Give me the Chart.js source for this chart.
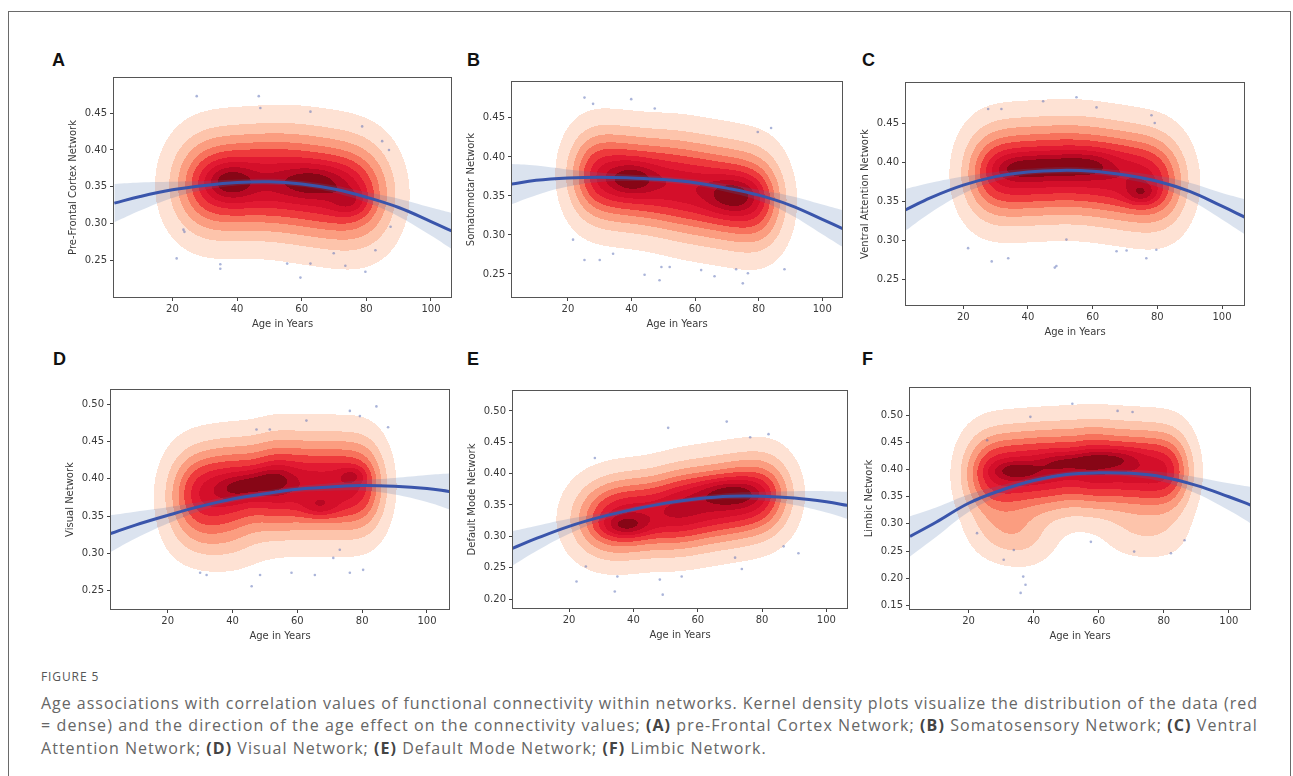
<!DOCTYPE html>
<html>
<head>
<meta charset="utf-8">
<script src="https://cdn.jsdelivr.net/npm/chart.js@4.4.1/dist/chart.umd.min.js"></script>
<style>
  body { margin: 0; background: #fff; width: 1293px; height: 776px; overflow: hidden; position: relative; font-family: 'Open Sans', sans-serif; }
  .frame { position: absolute; left: 8px; top: 11px; width: 1283px; height: 800px; border: 1.5px solid #6a6a6a; box-sizing: border-box; }
  .letter { position: absolute; font: bold 18px 'Liberation Sans', Arial, sans-serif; color: #111; line-height: 18px; }
  canvas { position: absolute; }
  .figno { position: absolute; left: 41px; top: 669px; font-size: 12px; line-height: 16px; letter-spacing: 0.9px; color: #555; }
  .cap { position: absolute; left: 41px; white-space: nowrap; font-size: 16px; line-height: 20px; color: #666; }
  .cap b { color: #444; font-weight: 700; }
</style>
</head>
<body>
<div class="frame"></div>
<div class="letter" style="left:52px;top:51px">A</div>
<div class="letter" style="left:467px;top:51px">B</div>
<div class="letter" style="left:862px;top:51px">C</div>
<div class="letter" style="left:53px;top:350px">D</div>
<div class="letter" style="left:467px;top:350px">E</div>
<div class="letter" style="left:862px;top:350px">F</div>

<div class="figno">FIGURE 5</div>
<div class="cap fit" style="top:693px"><span>Age associations with correlation values of functional connectivity within networks. Kernel density plots visualize the distribution of the data (red</span></div>
<div class="cap fit" style="top:715px"><span>= dense) and the direction of the age effect on the connectivity values; <b>(A)</b> pre-Frontal Cortex Network; <b>(B)</b> Somatosensory Network; <b>(C)</b> Ventral</span></div>
<div class="cap last" style="top:738px"><span>Attention Network; <b>(D)</b> Visual Network; <b>(E)</b> Default Mode Network; <b>(F)</b> Limbic Network.</span></div>

<script>
const ages = [2, 10, 20, 30, 40, 50, 60, 70, 80, 90, 100, 107];
const xTicks = [20, 40, 60, 80, 100];
const xTitle = 'Age in Years';

// A: pre-frontal
const titleA = 'Pre-Frontal Cortex Network';
const xRangeA = [1.9, 106.2];
const yRangeA = [0.2007, 0.4976];
const yTicksA = [0.25, 0.30, 0.35, 0.40, 0.45];
const fitA = [0.328, 0.337, 0.346, 0.352, 0.356, 0.357, 0.354, 0.347, 0.336, 0.322, 0.303, 0.289];
const ciHighA = [0.354, 0.356, 0.357, 0.358, 0.360, 0.361, 0.358, 0.352, 0.343, 0.334, 0.322, 0.314];
const ciLowA = [0.302, 0.318, 0.335, 0.346, 0.352, 0.353, 0.350, 0.342, 0.329, 0.310, 0.284, 0.264];
// density parts: [age1, val1, age2, val2, spreadAge, spreadVal, weight]
const kdeA = [
  [24.5, 0.352, 52, 0.358, 6.5, 0.044, 1.0],
  [52, 0.358, 83.5, 0.338, 6.5, 0.046, 1.0],
  [38, 0.357, 38, 0.357, 5, 0.016, 0.3],
  [63, 0.357, 63, 0.357, 7, 0.015, 0.28],
  [75, 0.330, 75, 0.330, 4, 0.013, 0.2],
];
const dotsA = [[27.5, 0.473], [46.7, 0.473], [47.2, 0.457], [21.3, 0.253], [34.8, 0.245], [34.8, 0.239], [59.6, 0.227],
  [55.5, 0.246], [62.7, 0.246], [73.5, 0.243], [79.7, 0.235], [84.9, 0.412], [87, 0.400], [78.7, 0.432], [62.7, 0.452],
  [23.4, 0.292], [23.7, 0.289], [82.8, 0.264], [87.5, 0.296], [69.9, 0.260]];

// B: somatomotor
const titleB = 'Somatomotar Network';
const xRangeB = [2.4, 106.2];
const yRangeB = [0.2205, 0.496];
const yTicksB = [0.25, 0.30, 0.35, 0.40, 0.45];
const fitB = [0.365, 0.370, 0.373, 0.374, 0.373, 0.371, 0.367, 0.360, 0.351, 0.338, 0.320, 0.307];
const ciHighB = [0.391, 0.389, 0.384, 0.380, 0.377, 0.375, 0.371, 0.365, 0.358, 0.350, 0.339, 0.331];
const ciLowB = [0.339, 0.351, 0.362, 0.368, 0.369, 0.367, 0.363, 0.355, 0.344, 0.326, 0.301, 0.283];
const kdeB = [
  [23.6, 0.378, 50, 0.366, 5, 0.038, 1.0],
  [50, 0.366, 84.5, 0.342, 5, 0.040, 1.0],
  [40, 0.372, 40, 0.372, 5, 0.014, 0.3],
  [72, 0.350, 72, 0.350, 5.5, 0.016, 0.3],
];
const dotsB = [[25.2, 0.476], [27.9, 0.468], [39.9, 0.474], [47.3, 0.462], [79.7, 0.432], [83.9, 0.437], [21.6, 0.294],
  [25.2, 0.268], [30, 0.268], [34.2, 0.276], [44.1, 0.249], [48.8, 0.242], [49.4, 0.259], [52, 0.259], [61.9, 0.255],
  [66.1, 0.247], [72.9, 0.256], [76.6, 0.251], [75, 0.238], [88.1, 0.256]];

// C: ventral attention
const titleC = 'Ventral Attention Network';
const xRangeC = [2.3, 106.8];
const yRangeC = [0.2169, 0.5024];
const yTicksC = [0.25, 0.30, 0.35, 0.40, 0.45];
const fitC = [0.339, 0.355, 0.371, 0.382, 0.388, 0.390, 0.389, 0.384, 0.376, 0.363, 0.344, 0.330];
const ciHighC = [0.366, 0.374, 0.382, 0.388, 0.392, 0.394, 0.393, 0.389, 0.383, 0.374, 0.361, 0.353];
const ciLowC = [0.312, 0.336, 0.360, 0.376, 0.384, 0.386, 0.385, 0.379, 0.369, 0.352, 0.327, 0.308];
const kdeC = [
  [23.9, 0.385, 55, 0.392, 5.4, 0.039, 1.0],
  [55, 0.392, 85.1, 0.373, 5.4, 0.039, 1.0],
  [32, 0.393, 64, 0.398, 4, 0.012, 0.3],
  [75, 0.360, 75, 0.360, 3.5, 0.010, 0.3],
];
const dotsC = [[27.7, 0.469], [31.8, 0.469], [44.7, 0.479], [55, 0.484], [61.2, 0.471], [78.2, 0.461], [79.2, 0.451],
  [21.5, 0.290], [28.8, 0.273], [33.9, 0.277], [48.3, 0.265], [48.8, 0.267], [51.9, 0.301], [67.4, 0.286], [70.5, 0.287],
  [76.6, 0.277], [79.7, 0.288]];

// D: visual
const titleD = 'Visual Network';
const xRangeD = [2.5, 106.8];
const yRangeD = [0.2255, 0.519];
const yTicksD = [0.25, 0.30, 0.35, 0.40, 0.45, 0.50];
const fitD = [0.326, 0.338, 0.351, 0.363, 0.373, 0.380, 0.386, 0.389, 0.391, 0.390, 0.387, 0.383];
const ciHighD = [0.351, 0.356, 0.362, 0.369, 0.377, 0.384, 0.390, 0.394, 0.398, 0.401, 0.405, 0.407];
const ciLowD = [0.301, 0.320, 0.340, 0.357, 0.369, 0.376, 0.382, 0.384, 0.384, 0.379, 0.369, 0.359];
const kdeD = [
  [23.6, 0.378, 50, 0.392, 5.2, 0.039, 1.0],
  [50, 0.392, 84.3, 0.390, 4.2, 0.041, 1.0],
  [25, 0.325, 45, 0.315, 6, 0.028, 0.18],
  [38, 0.385, 56, 0.402, 4, 0.012, 0.35],
  [67, 0.362, 67, 0.362, 4, 0.010, 0.25],
  [77, 0.405, 77, 0.405, 3, 0.008, 0.2],
];
const dotsD = [[47.4, 0.466], [51.5, 0.466], [62.8, 0.478], [76.2, 0.491], [84.4, 0.497], [79.3, 0.484], [88, 0.469],
  [30, 0.274], [32, 0.271], [45.9, 0.256], [48.5, 0.271], [58.2, 0.274], [65.4, 0.271], [71.1, 0.294], [76.2, 0.274],
  [80.3, 0.278], [73.1, 0.305]];

// E: default mode
const titleE = 'Default Mode Network';
const xRangeE = [2.55, 106.4];
const yRangeE = [0.1857, 0.5318];
const yTicksE = [0.20, 0.25, 0.30, 0.35, 0.40, 0.45, 0.50];
const fitE = [0.280, 0.297, 0.316, 0.331, 0.343, 0.353, 0.360, 0.364, 0.364, 0.361, 0.355, 0.349];
const ciHighE = [0.308, 0.317, 0.328, 0.337, 0.347, 0.357, 0.364, 0.369, 0.371, 0.372, 0.372, 0.371];
const ciLowE = [0.252, 0.277, 0.304, 0.325, 0.339, 0.349, 0.356, 0.359, 0.357, 0.350, 0.338, 0.327];
const kdeE = [
  [26, 0.325, 50, 0.340, 6.5, 0.040, 1.0],
  [50, 0.340, 85.2, 0.368, 5.3, 0.042, 1.0],
  [38, 0.316, 38, 0.316, 5, 0.012, 0.3],
  [70, 0.370, 70, 0.370, 7, 0.015, 0.3],
];
const dotsE = [[22.3, 0.228], [25.2, 0.252], [34.2, 0.212], [35, 0.236], [48.2, 0.231], [49.1, 0.207], [55, 0.236],
  [50.8, 0.473], [69, 0.483], [76.3, 0.458], [82, 0.463], [28, 0.425], [71.6, 0.266], [73.7, 0.248], [91.3, 0.273],
  [86.7, 0.284]];

// F: limbic
const titleF = 'Limbic Network';
const xRangeF = [2.0, 106.5];
const yRangeF = [0.1434, 0.5501];
const yTicksF = [0.15, 0.20, 0.25, 0.30, 0.35, 0.40, 0.45, 0.50];
const fitF = [0.277, 0.303, 0.338, 0.362, 0.380, 0.391, 0.394, 0.393, 0.386, 0.371, 0.350, 0.334];
const ciHighF = [0.314, 0.330, 0.354, 0.371, 0.386, 0.396, 0.399, 0.399, 0.395, 0.386, 0.375, 0.368];
const ciLowF = [0.240, 0.276, 0.322, 0.353, 0.374, 0.386, 0.389, 0.387, 0.377, 0.356, 0.325, 0.300];
const kdeF = [
  [21.5, 0.390, 55, 0.405, 4.7, 0.050, 1.0],
  [55, 0.405, 86, 0.395, 4, 0.050, 1.0],
  [25, 0.290, 42, 0.272, 5.5, 0.035, 0.3],
  [65, 0.285, 84, 0.280, 5, 0.032, 0.16],
  [35, 0.398, 35, 0.398, 5, 0.012, 0.3],
  [44, 0.410, 70, 0.422, 4, 0.013, 0.3],
];
const dotsF = [[51.9, 0.521], [39, 0.497], [25.7, 0.454], [65.8, 0.508], [70.4, 0.506], [36.8, 0.203], [37.5, 0.188],
  [36, 0.173], [57.6, 0.267], [70.9, 0.249], [33.9, 0.252], [30.8, 0.234], [22.6, 0.283], [82.2, 0.246], [86.4, 0.270]];

// filled contour levels (share of peak density) and their colours
const levels = [0.05, 0.155, 0.26, 0.37, 0.47, 0.58, 0.68, 0.79, 0.89];
const levelColors = ['#fee2d4', '#fdc4ab', '#fb9d80', '#f7725c', '#ee3a3c', '#e21a32', '#d40f2a', '#b80823', '#870616'];

const panels = [
  { box: [114, 78, 451, 297], xr: xRangeA, yr: yRangeA, yt: yTicksA, title: titleA, fit: fitA, hi: ciHighA, lo: ciLowA, kde: kdeA, dots: dotsA },
  { box: [512, 82, 842, 297], xr: xRangeB, yr: yRangeB, yt: yTicksB, title: titleB, fit: fitB, hi: ciHighB, lo: ciLowB, kde: kdeB, dots: dotsB },
  { box: [906, 83, 1244, 305], xr: xRangeC, yr: yRangeC, yt: yTicksC, title: titleC, fit: fitC, hi: ciHighC, lo: ciLowC, kde: kdeC, dots: dotsC },
  { box: [111, 390, 449, 609], xr: xRangeD, yr: yRangeD, yt: yTicksD, title: titleD, fit: fitD, hi: ciHighD, lo: ciLowD, kde: kdeD, dots: dotsD },
  { box: [513, 391, 847, 608], xr: xRangeE, yr: yRangeE, yt: yTicksE, title: titleE, fit: fitE, hi: ciHighE, lo: ciLowE, kde: kdeE, dots: dotsE },
  { box: [910, 388, 1250, 609], xr: xRangeF, yr: yRangeF, yt: yTicksF, title: titleF, fit: fitF, hi: ciHighF, lo: ciLowF, kde: kdeF, dots: dotsF },
];

function erf(x) {
  const s = Math.sign(x);
  x = Math.abs(x);
  const t = 1 / (1 + 0.3275911 * x);
  const y = 1 - (((((1.061405429 * t - 1.453152027) * t) + 1.421413741) * t - 0.284496736) * t + 0.254829592) * t * Math.exp(-x * x);
  return s * y;
}
const Phi = z => 0.5 * (1 + erf(z / Math.SQRT2));

// a gaussian smeared along a segment (or a plain gaussian if both ends match)
function partDensity(p, x, y) {
  const [x1, y1, x2, y2, sx, sy, w] = p;
  const qx = (x - x1) / sx, qy = (y - y1) / sy;
  const ex = (x2 - x1) / sx, ey = (y2 - y1) / sy;
  const L = Math.hypot(ex, ey);
  if (L < 1e-6) return w * Math.exp(-0.5 * (qx * qx + qy * qy));
  const s = (qx * ex + qy * ey) / L;
  const d2 = Math.max(qx * qx + qy * qy - s * s, 0);
  return w * Math.exp(-0.5 * d2) * (Phi(s) - Phi(s - L));
}

function hexToRgb(h) {
  return [parseInt(h.slice(1, 3), 16), parseInt(h.slice(3, 5), 16), parseInt(h.slice(5, 7), 16)];
}
const levelRgb = levelColors.map(hexToRgb);

const kdePlugin = {
  id: 'kde',
  beforeDatasetsDraw(chart, args, opts) {
    const parts = opts.parts;
    const area = chart.chartArea;
    const x0 = Math.round(area.left), y0 = Math.round(area.top);
    const w = Math.round(area.right) - x0, h = Math.round(area.bottom) - y0;
    const xs = chart.scales.x, ys = chart.scales.y;
    const dens = new Float32Array(w * h);
    let max = 0;
    for (let j = 0; j < h; j++) {
      const vy = ys.getValueForPixel(y0 + j + 0.5);
      for (let i = 0; i < w; i++) {
        const vx = xs.getValueForPixel(x0 + i + 0.5);
        let d = 0;
        for (const p of parts) d += partDensity(p, vx, vy);
        dens[j * w + i] = d;
        if (d > max) max = d;
      }
    }
    const img = new ImageData(w, h);
    for (let k = 0; k < w * h; k++) {
      const f = dens[k] / max;
      let band = -1;
      for (let l = 0; l < levels.length; l++) if (f >= levels[l]) band = l;
      if (band < 0) continue;
      const c = levelRgb[band];
      img.data[k * 4] = c[0];
      img.data[k * 4 + 1] = c[1];
      img.data[k * 4 + 2] = c[2];
      img.data[k * 4 + 3] = 255;
    }
    const off = document.createElement('canvas');
    off.width = w;
    off.height = h;
    off.getContext('2d').putImageData(img, 0, 0);
    chart.ctx.drawImage(off, x0, y0);
  }
};

const framePlugin = {
  id: 'frame',
  afterDatasetsDraw(chart) {
    const { left, top, right, bottom } = chart.chartArea;
    const ctx = chart.ctx;
    ctx.save();
    ctx.strokeStyle = '#555';
    ctx.lineWidth = 1;
    ctx.strokeRect(Math.round(left) - 0.5, Math.round(top) - 0.5, Math.round(right - left) + 1, Math.round(bottom - top) + 1);
    ctx.restore();
  }
};

const tickFont = { family: 'DejaVu Sans', size: 10 };
const PAD_L = 50, PAD_T = 12, PAD_R = 12, PAD_B = 40;

panels.forEach(p => {
  const [l, t, r, b] = p.box;
  const canvas = document.createElement('canvas');
  canvas.width = (r - l) + PAD_L + PAD_R;
  canvas.height = (b - t) + PAD_T + PAD_B;
  canvas.style.left = (l - PAD_L) + 'px';
  canvas.style.top = (t - PAD_T) + 'px';
  document.body.appendChild(canvas);

  const pts = arr => ages.map((a, i) => ({ x: a, y: arr[i] }));

  new Chart(canvas, {
    type: 'line',
    data: {
      datasets: [
        { data: pts(p.fit), borderColor: '#3a55ab', borderWidth: 3, pointRadius: 0, tension: 0.4, fill: false, clip: 0 },
        { data: p.dots.map(d => ({ x: d[0], y: d[1] })), showLine: false, pointRadius: 1.3, pointBorderWidth: 0,
          pointBackgroundColor: 'rgba(85,105,180,0.5)', clip: 0 },
        { data: pts(p.hi), borderWidth: 0, pointRadius: 0, tension: 0.4, fill: false, clip: 0 },
        { data: pts(p.lo), borderWidth: 0, pointRadius: 0, tension: 0.4, fill: '-1', backgroundColor: 'rgba(76,114,176,0.2)', clip: 0 },
      ]
    },
    options: {
      responsive: false,
      animation: false,
      devicePixelRatio: 1,
      layout: { padding: { left: 0, top: PAD_T, right: PAD_R, bottom: 0 } },
      plugins: { legend: { display: false }, tooltip: { enabled: false }, kde: { parts: p.kde } },
      scales: {
        x: {
          type: 'linear', min: p.xr[0], max: p.xr[1],
          afterBuildTicks: s => { s.ticks = xTicks.map(v => ({ value: v })); },
          afterFit: s => { s.height = PAD_B; },
          grid: { drawOnChartArea: false, drawTicks: true, tickLength: 4, color: '#444' },
          border: { display: false },
          ticks: { font: tickFont, color: '#3a3a3a', padding: 2, maxRotation: 0, callback: v => v },
          title: { display: true, text: xTitle, font: tickFont, color: '#3a3a3a', padding: { top: 0, bottom: 7 } }
        },
        y: {
          type: 'linear', min: p.yr[0], max: p.yr[1],
          afterBuildTicks: s => { s.ticks = p.yt.map(v => ({ value: v })); },
          afterFit: s => { s.width = PAD_L; },
          grid: { drawOnChartArea: false, drawTicks: true, tickLength: 4, color: '#444' },
          border: { display: false },
          ticks: { font: tickFont, color: '#3a3a3a', padding: 3, callback: v => v.toFixed(2) },
          title: { display: true, text: p.title, font: tickFont, color: '#3a3a3a', padding: { top: 3, bottom: 0 } }
        }
      }
    },
    plugins: [kdePlugin, framePlugin]
  });
});

// spread caption lines 1-2 to the text block width
const capWidth = 1217;
let spacing = 0;
document.querySelectorAll('.cap.fit span').forEach(sp => {
  const w = sp.getBoundingClientRect().width;
  const n = sp.textContent.length;
  const ls = (capWidth - w) / n;
  sp.style.letterSpacing = ls + 'px';
  spacing += ls / 2;
});
document.querySelector('.cap.last span').style.letterSpacing = spacing + 'px';
</script>
</body>
</html>
